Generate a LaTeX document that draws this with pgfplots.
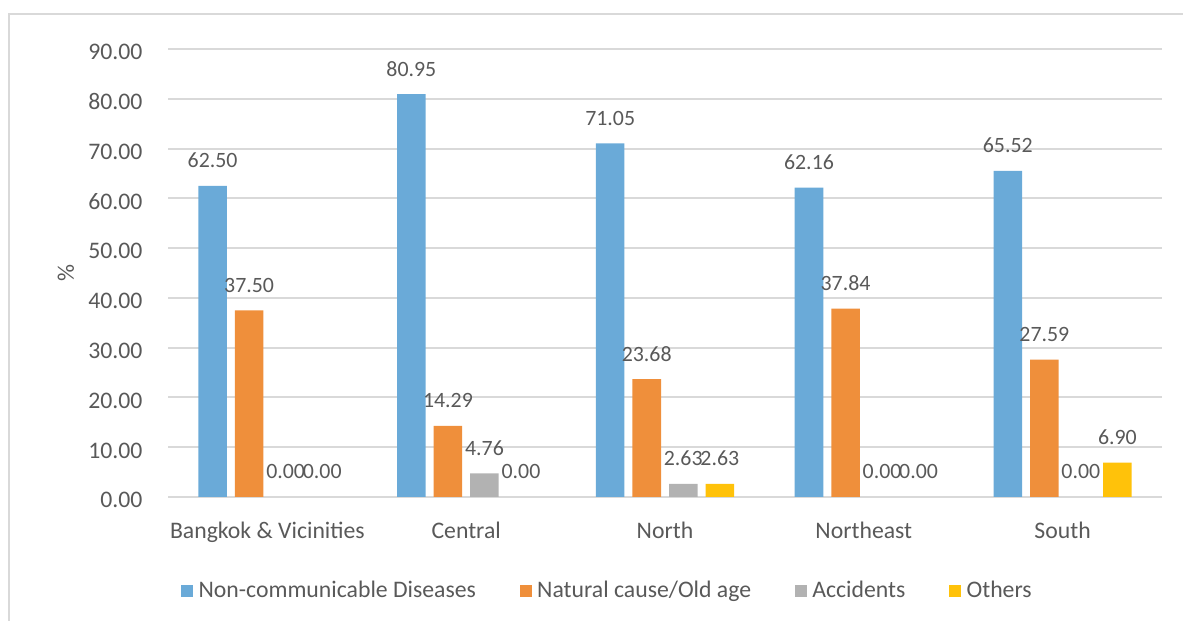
\documentclass[border=0pt]{standalone}
\usepackage{fontspec}
\setmainfont{Carlito}
\usepackage{pgfplots}
\pgfplotsset{compat=1.18}
\definecolor{ncd}{HTML}{6AAAD8}
\definecolor{nat}{HTML}{EF8F3B}
\definecolor{acc}{HTML}{B2B2B2}
\definecolor{oth}{HTML}{FFC20A}
\definecolor{txt}{HTML}{595959}
\definecolor{gridc}{HTML}{D9D9D9}

\begin{document}
\begin{tikzpicture}[x=0.375pt,y=0.375pt]
\useasboundingbox (0,0) rectangle (1183,621);
% chart frame (only left and top edges are visible)
\draw[gridc, line width=0.8pt] (9,0) -- (9,607) -- (1183,607);
\begin{axis}[
  at={(63pt,46.5pt)}, anchor=south west,
  scale only axis, width=372.75pt, height=168pt,
  ybar, bar width=10.7pt,
  xmin=-0.5, xmax=4.5, ymin=0, ymax=90,
  xtick={0,1,2,3,4},
  xticklabels={Bangkok \& Vicinities, Central, North, Northeast, South},
  ytick={0,10,...,90},
  axis line style={draw=none}, major tick length=0pt,
  ymajorgrids, grid style={gridc, line width=0.75pt},
  font=\fontsize{8.9}{10.7}\selectfont, text=txt,
  /pgf/number format/assume math mode=true,
  yticklabel={\pgfmathprintnumber[fixed,fixed zerofill,precision=2]{\tick}},
  yticklabel style={anchor=east, inner sep=0pt, xshift=-9.4pt, yshift=-1.2pt, text=txt},
  xticklabel style={anchor=base, yshift=-15.6pt, text=txt},
  ylabel={\%},
  every axis y label/.style={at={(rel axis cs:0,0.5)}, xshift=-38.25pt, rotate=90, anchor=center, text=txt},
  nodes near coords={\pgfmathprintnumber[fixed,fixed zerofill,precision=2]{\pgfplotspointmeta}},
  every node near coord/.append style={font=\fontsize{8.2}{9.8}\selectfont, text=txt, inner sep=0pt, anchor=south, yshift=6.5pt},
  legend columns=-1,
  legend style={at={(0.4437,-0.2098)}, anchor=center, draw=none, fill=none,
    font=\fontsize{8.9}{10.7}\selectfont, text=txt,
    /tikz/every even column/.append style={column sep=14.35pt}},
  legend image code/.code={\fill[#1] (0pt,-2.3pt) rectangle (4.6pt,2.3pt);},
]
% bars with a value above zero
\addplot[fill=ncd, draw=none, bar shift=-20.55pt] coordinates {(0,62.50) (1,80.95) (2,71.05) (3,62.16) (4,65.52)};
\addplot[fill=nat, draw=none, bar shift=-6.85pt] coordinates {(0,37.50) (1,14.29) (2,23.68) (3,37.84) (4,27.59)};
\addplot[fill=acc, draw=none, bar shift=6.85pt] coordinates {(1,4.76) (2,2.63)};
\addplot[fill=oth, draw=none, bar shift=20.55pt] coordinates {(2,2.63) (4,6.90)};
% zero values: label only
\addplot[draw=none, fill=none, bar shift=6.85pt, forget plot] coordinates {(0,0.00) (3,0.00) (4,0.00)};
\addplot[draw=none, fill=none, bar shift=20.55pt, forget plot] coordinates {(0,0.00) (1,0.00) (3,0.00)};
\legend{Non-communicable Diseases, Natural cause/Old age, Accidents, Others}
\end{axis}
\end{tikzpicture}
\end{document}
